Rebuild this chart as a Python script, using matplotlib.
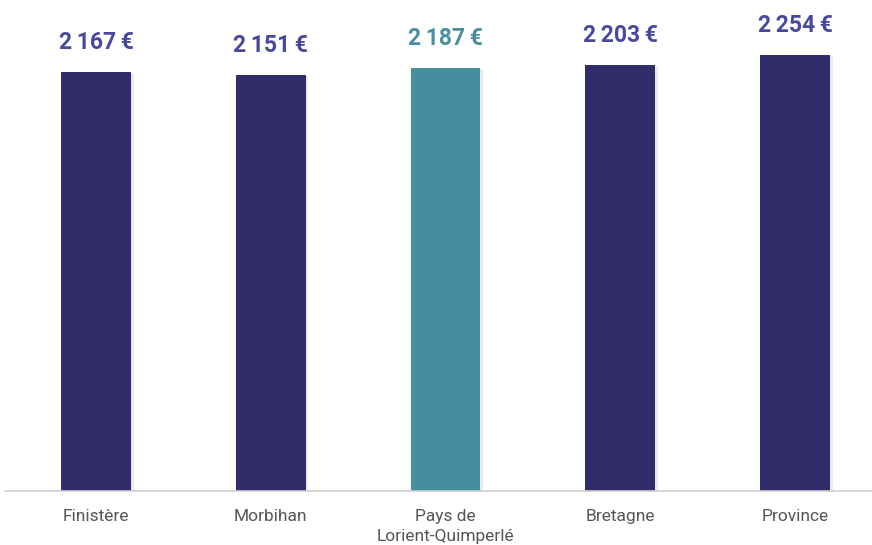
import matplotlib.pyplot as plt
import matplotlib.patheffects as pe

categories = ["Finistère", "Morbihan", "Pays de\nLorient-Quimperlé", "Bretagne", "Province"]
values = [2167, 2151, 2187, 2203, 2254]
labels = ["2\u2009167\u2009€", "2\u2009151\u2009€", "2\u2009187\u2009€", "2\u2009203\u2009€", "2\u2009254\u2009€"]
highlight = "Pays de\nLorient-Quimperlé"

NAVY = "#312d6b"
TEAL = "#458e9e"
NAVY_TXT = "#474a9c"
TEAL_TXT = "#4a8f9e"

plt.rcParams['font.family'] = ['Roboto', 'DejaVu Sans']

fig = plt.figure(figsize=(8.72, 5.45), dpi=100)
ax = fig.add_axes([5 / 872, 54 / 545, 867 / 872, 481 / 545])

x = list(range(len(categories)))
colors = [TEAL if c == highlight else NAVY for c in categories]
bars = ax.bar(x, values, width=0.40, color=colors, zorder=2)
for b in bars:
    b.set_path_effects([pe.SimplePatchShadow(offset=(2, -1), shadow_rgbFace="#cccccc", alpha=0.4), pe.Normal()])

for xi, v, lab, c in zip(x, values, labels, categories):
    ax.annotate(lab, (xi, v), xytext=(0, 13), textcoords="offset points",
                ha="center", va="bottom", fontsize=16.5, fontweight="bold",
                color=TEAL_TXT if c == highlight else NAVY_TXT)

ax.set_xlim(-91 / 174.75, 776 / 174.75)
ax.set_ylim(0, 2487)
ax.set_xticks(x)
ax.set_xticklabels(categories, fontsize=12.5, color="#555555", linespacing=1.45)
ax.tick_params(axis="x", length=0, pad=13)
ax.set_yticks([])
for s in ["top", "left", "right"]:
    ax.spines[s].set_visible(False)
ax.spines["bottom"].set_color("#d0d0d0")
ax.spines["bottom"].set_linewidth(1.2)

fig.savefig("out.png", dpi=100)
